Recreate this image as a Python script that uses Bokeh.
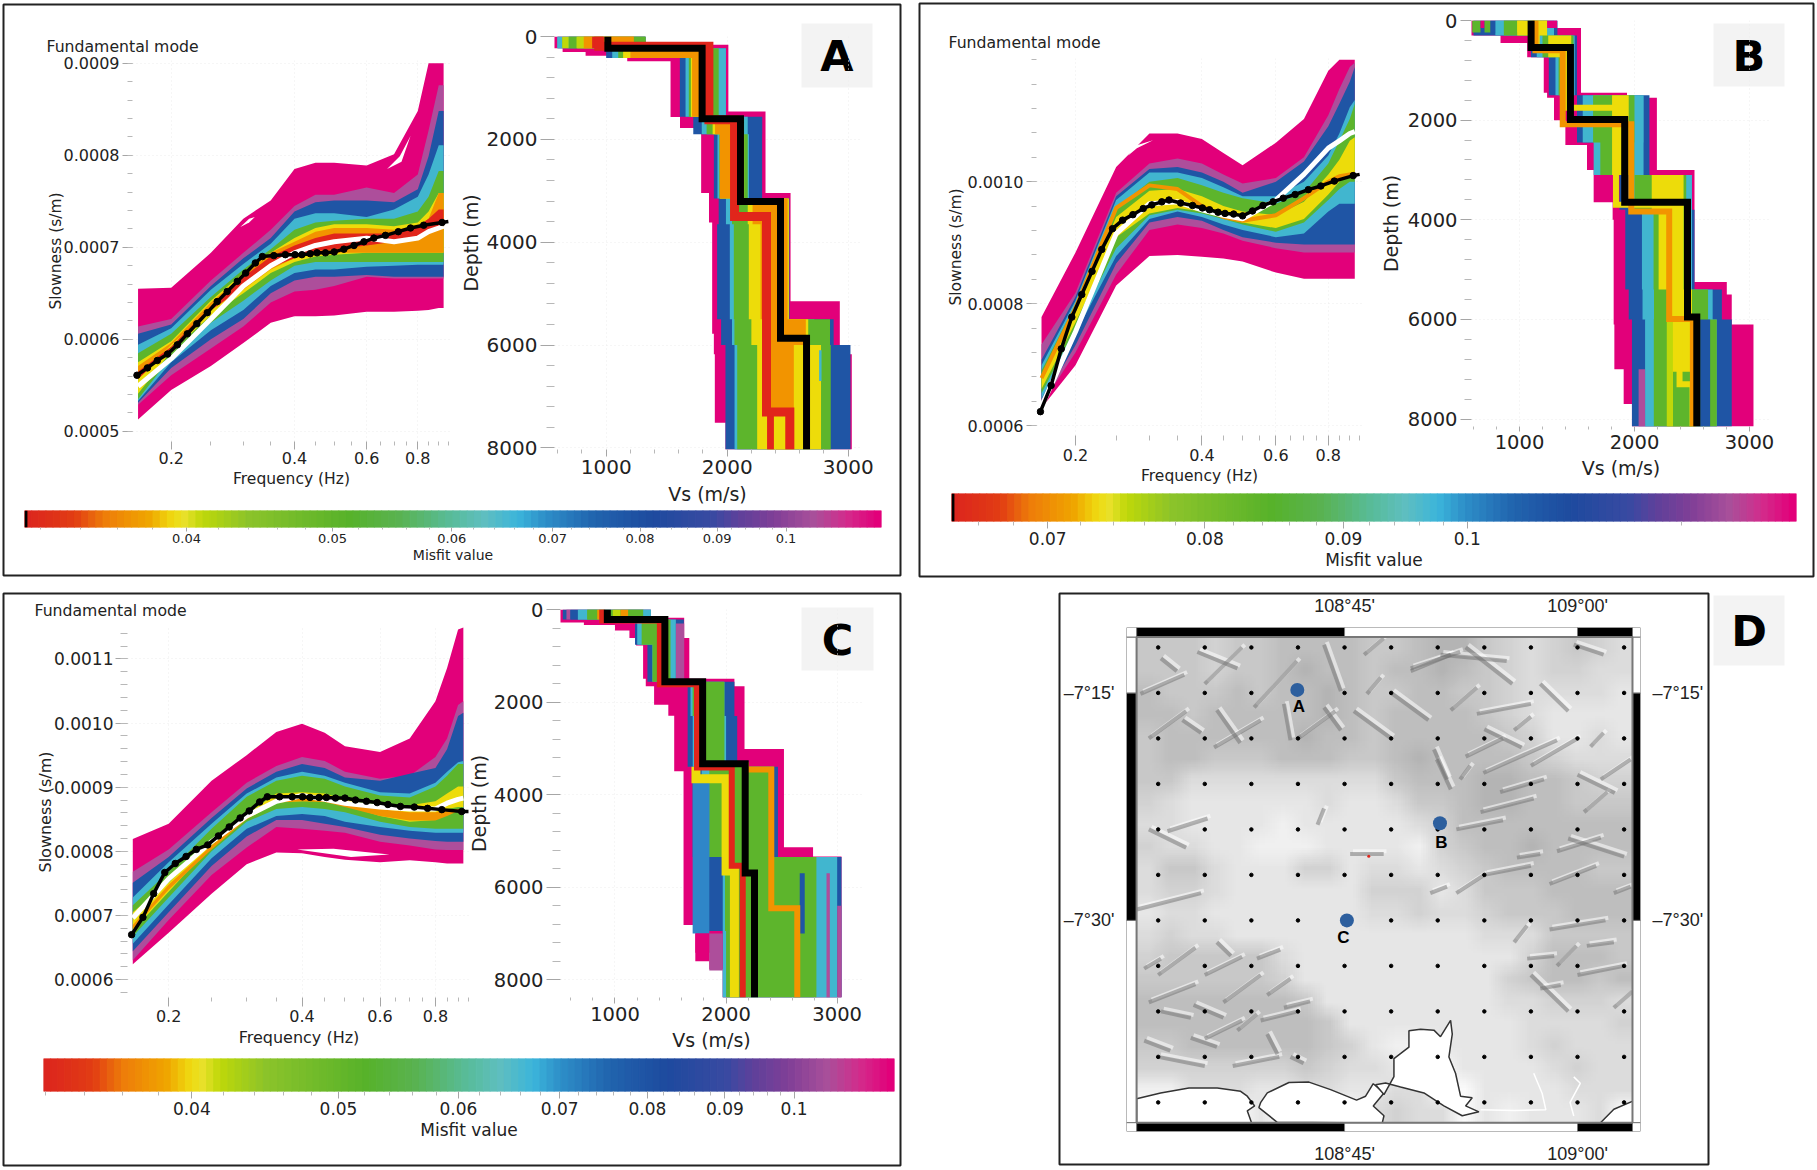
import numpy as np
from bokeh.plotting import figure
from bokeh.models import Range1d, FixedTicker, PrintfTickFormatter, LinearAxis, LinearColorMapper
from bokeh.core.properties import value
from bokeh.palettes import Greys256
from bokeh.embed import file_html
from bokeh.resources import INLINE

# ---- colours
PINK, MAUVE, BLUE, TEAL, GREEN, LIME, YELLOW, ORANGE, RED = ("#E2007A", "#AD4E9B", "#1F55A5", "#41B6CF", "#5DB52C",
                                                       "#BFD80A", "#EDDC0A", "#F29400", "#E1251B")
# ---- frequency (Hz) for the misfit envelopes, slowness in 1e-4 s/m
F = [0.166, 0.2, 0.25, 0.3, 0.35, 0.4, 0.45, 0.5, 0.6, 0.7, 0.8, 0.85, 0.9, 0.925]
F_DOT = [0.165,0.175,0.185,0.196,0.207,0.219,0.231,0.245,0.259,0.274,0.29,0.304,0.321,0.334,0.356,0.38,0.401,0.417,
         0.437,0.454,0.476,0.5,0.528,0.559,0.591,0.625,0.667,0.717,0.768,0.827,0.917]
F_END = 0.95

A_PINK = ([6.55,6.56,6.94,7.31,7.51,7.85,7.92,7.92,7.89,8.01,8.48,9.0,9.0,9.0],
          [5.13,5.45,5.71,5.96,6.18,6.25,6.25,6.26,6.30,6.30,6.31,6.32,6.34,6.34])
A_MAUVE = ([6.14,6.22,6.64,6.94,7.19,7.45,7.57,7.57,7.65,7.59,7.79,8.27,8.76,8.76],
           [5.29,5.61,5.90,6.14,6.40,6.52,6.54,6.58,6.68,6.66,6.66,6.66,6.66,6.66])
A_BLUE = ([6.06,6.16,6.58,6.88,7.10,7.39,7.49,7.51,7.51,7.49,7.63,7.99,8.48,8.48],
          [5.31,5.69,6.0,6.22,6.5,6.64,6.68,6.68,6.70,6.68,6.68,6.68,6.68,6.68])
A_TEAL = ([5.94,6.12,6.54,6.82,7.04,7.31,7.37,7.37,7.33,7.41,7.55,7.79,8.11,8.11],
          [5.33,5.75,6.10,6.32,6.58,6.72,6.76,6.76,6.79,6.80,6.81,6.81,6.81,6.81])
A_GREEN = ([5.85,6.06,6.46,6.76,6.98,7.19,7.27,7.29,7.31,7.31,7.39,7.55,7.83,7.83],
           [5.35,5.81,6.18,6.42,6.64,6.80,6.84,6.84,6.84,6.84,6.84,6.84,6.84,6.84])
A_YELLOW = ([5.75,5.98,6.42,6.72,6.94,7.10,7.21,7.25,7.25,7.23,7.27,7.39,7.59,7.59],
            [5.41,5.87,6.26,6.5,6.72,6.84,6.90,6.92,6.94,6.94,6.94,6.94,6.94,6.94])
A_ORANGE = ([5.71,5.96,6.40,6.70,6.94,7.06,7.17,7.21,7.21,7.19,7.23,7.31,7.59,7.59],
            [5.57,5.94,6.32,6.54,6.76,6.88,6.94,6.94,6.94,6.94,6.94,6.94,6.94,6.94])
A_RED = ([5.65,5.92,6.36,6.68,6.90,7.02,7.10,7.15,7.15,7.15,7.23,7.31,7.41,7.41],
         [5.57,5.90,6.32,6.56,6.78,6.88,6.96,6.98,7.02,7.06,7.12,7.19,7.23,7.23])
A_WHITE = [5.49,5.79,6.22,6.58,6.80,6.94,7.02,7.06,7.10,7.06,7.10,7.17,7.21,7.23]
A_BLACK = [5.61,5.69,5.77,5.84,5.94,6.06,6.17,6.29,6.41,6.52,6.63,6.72,6.83,6.90,6.91,6.92,6.92,6.92,6.93,6.94,6.94,
           6.95,6.98,7.02,7.06,7.10,7.13,7.17,7.21,7.24,7.27]
A_BLACK_END = 7.28
A_HOLES = [([0.295,0.31,0.32,0.31],[7.22,7.31,7.33,7.27]), ([0.673,0.723,0.768,0.73],[7.85,7.99,8.21,7.93])]

B_PINK = ([7.78,8.84,10.24,10.79,10.79,10.70,10.47,10.27,10.64,11.03,11.82,12.0,12.0,12.0],
          [6.29,6.99,8.30,8.78,8.80,8.77,8.74,8.69,8.51,8.41,8.41,8.41,8.41,8.41])
B_MAUVE = ([7.33,8.18,9.82,10.30,10.38,10.30,10.12,9.97,10.06,10.40,11.09,11.52,11.88,11.95],
           [6.35,7.20,8.48,9.21,9.30,9.24,9.15,9.03,8.91,8.84,8.84,8.84,8.84,8.84])
B_BLUE = ([7.08,8.11,9.76,10.21,10.24,10.15,10.0,9.82,10.0,10.33,10.91,11.28,11.64,11.88],
          [6.38,7.32,8.66,9.33,9.42,9.36,9.21,9.09,9.0,8.97,8.97,8.97,8.97,8.97])
B_TEAL = ([6.99,8.05,9.70,10.15,10.15,10.06,9.91,9.76,9.76,10.0,10.43,10.79,11.22,11.34],
          [6.44,7.51,8.78,9.39,9.51,9.42,9.30,9.21,9.09,9.15,9.51,9.64,9.64,9.64])
B_GREEN = ([6.90,7.99,9.57,10.0,10.06,9.94,9.82,9.73,9.64,9.82,10.30,10.67,11.03,11.28],
           [6.53,7.60,8.91,9.45,9.54,9.48,9.39,9.30,9.18,9.33,9.70,9.88,10.0,10.0])
B_YELLOW = ([6.84,7.87,9.42,9.85,9.88,9.76,9.60,9.51,9.45,9.67,10.12,10.36,10.67,10.73],
            [6.60,7.69,9.09,9.48,9.57,9.51,9.42,9.33,9.24,9.39,9.79,10.0,10.12,10.12])
B_ORANGE = [6.78,7.93,9.57,9.94,9.88,9.60,9.42,9.36,9.45,9.73,10.0,10.09,10.12,10.13]
B_WHITE = [6.32,7.54,9.15,9.64,9.67,9.54,9.45,9.39,9.70,10.12,10.55,10.67,10.79,10.82]
B_BLACK = [6.23,6.66,7.26,7.78,8.15,8.53,8.89,9.23,9.37,9.46,9.56,9.62,9.67,9.70,9.65,9.61,9.57,9.54,9.50,9.48,9.47,
           9.44,9.52,9.61,9.67,9.73,9.79,9.87,9.93,10.01,10.10]
B_BLACK_END = 10.12
B_HOLES = [([0.267,0.275,0.306,0.28],[10.43,10.58,10.68,10.55])]

C_PINK = ([8.19,8.43,9.10,9.50,9.86,9.99,9.85,9.64,9.55,9.76,10.34,10.86,11.46,11.49],
          [6.24,6.73,7.34,7.80,7.98,7.97,7.91,7.87,7.83,7.86,7.83,7.81,7.81,7.81])
C_MAUVE = ([7.68,8.03,8.61,9.07,9.33,9.47,9.41,9.24,9.13,9.18,9.47,9.76,10.28,10.34],
           [6.30,6.93,7.63,8.06,8.38,8.35,8.32,8.29,8.15,8.09,8.03,8.02,8.02,8.02])
C_BLUE = ([7.51,7.91,8.52,8.98,9.24,9.36,9.30,9.15,9.10,9.21,9.30,9.59,10.11,10.16],
          [6.44,7.05,7.77,8.23,8.49,8.49,8.43,8.38,8.26,8.20,8.16,8.15,8.15,8.15])
C_TEAL = ([7.28,7.83,8.43,8.90,9.15,9.24,9.18,9.07,8.92,8.90,9.07,9.24,9.39,9.41],
          [6.56,7.17,7.89,8.35,8.55,8.58,8.55,8.46,8.38,8.32,8.29,8.29,8.29,8.29])
C_GREEN = ([7.16,7.68,8.35,8.85,9.10,9.18,9.13,9.01,8.87,8.84,9.01,9.18,9.36,9.36],
           [6.67,7.28,8.00,8.46,8.66,8.69,8.66,8.61,8.46,8.38,8.35,8.35,8.35,8.35])
C_YELLOW = ([7.05,7.51,8.15,8.58,8.90,8.92,8.90,8.81,8.66,8.72,8.78,8.90,9.01,9.01],
            [6.76,7.37,8.09,8.50,8.76,8.78,8.78,8.72,8.55,8.46,8.49,8.66,8.69,8.69])
C_ORANGE = ([6.85,7.48,8.09,8.55,8.81,8.84,8.81,8.75,8.66,8.61,8.61,8.64,8.66,8.66],
            [6.79,7.40,8.03,8.50,8.76,8.78,8.77,8.69,8.55,8.48,8.48,8.55,8.63,8.63])
C_WHITE = [6.96,7.57,8.15,8.55,8.78,8.87,8.81,8.75,8.69,8.66,8.66,8.75,8.81,8.83]
C_BLACK = [6.70,6.97,7.34,7.67,7.81,7.92,8.03,8.10,8.24,8.38,8.52,8.63,8.77,8.85,8.85,8.85,8.85,8.84,8.84,8.84,8.83,
           8.83,8.80,8.78,8.76,8.73,8.70,8.69,8.67,8.65,8.62]
C_BLACK_END = 8.62
C_HOLES = [([0.39,0.471,0.63,0.516],[8.03,8.04,7.95,7.91])]

# ---- Vs profiles: layer bottoms (m) with left / right Vs (m/s) of each colour envelope
A_P_D = [160,230,303,375,483,1456,1564,1780,1996,3041,3618,5146,5780,6180,7510,8031]
A_P_L = [562,562,640,830,1174,1532,1532,1610,1785,1785,1850,1876,1876,1890,1898,1986]
A_P_R = [1325,2010,2010,2010,2010,2010,2317,2317,2317,2317,2524,2524,2931,2931,3030,3030]
A_D = [230,420,1560,1900,3150,3650,5500,6000,8031]
A_V_BLUE = ([600,1000,1609,1720,1890,1930,1917,1950,1986],[1325,1990,1990,2290,2289,2515,2515,2880,3019])
A_V_TEAL = ([640,1050,1656,1790,1920,1990,2022,2040,2061],[1325,1990,1990,2170,2180,2510,2510,2720,2780])
A_V_GREEN = ([690,1100,1683,1830,1935,2040,2055,2060,2083],[1325,1930,1930,2140,2170,2510,2510,2850,2854])
A_V_YELLOW = ([760,1140,1700,1880,1940,2170,2179,2200,2248],[1229,1850,1860,2120,2140,2510,2510,2670,2777])
A_V_ORANGE = ([815,1200,1710,1900,1939,2210,2276,2290,2331],[1229,1820,1820,2110,2110,2500,2500,2650,2551])
A_STRIPS = [(TEAL,595,636,0,230),(LIME,636,691,0,230),(GREEN,691,755,0,230),(LIME,755,815,0,230),(ORANGE,815,884,0,230),
            (RED,884,981,0,230),(ORANGE,1041,1229,0,230),(GREEN,1229,1325,0,230),(YELLOW,2386,2482,7300,8031),
            (RED,2330,2386,7260,8031),(GREEN,2777,2854,6000,8031),(TEAL,2760,2780,6100,6700)]
A_V_RED = ([939,1849,2061,2325,2518],[190,1620,3500,7300,8031])
A_V_BLACK = ([1014,1793,2110,2441,2656],[230,1600,3207,5866,8031])

B_P_D = [150,300,450,740,1450,1550,2000,2500,3000,3650,4000,5250,5500,6100,7000,7700,8150]
B_P_L = [575,575,835,1067,1211,1240,1300,1399,1587,1645,1810,1819,1819,1819,1825,1906,1978]
B_P_R = [1327,1535,1535,1535,1535,1935,2195,2195,2195,2522,2522,2522,2803,2846,3035,3035,3035]
B_D = [300,740,1500,2450,3100,3800,5400,6000,8150]
B_V_BLUE = ([600,1100,1255,1500,1680,1870,1920,1950,1978],[1330,1500,1500,2130,2130,2500,2522,2760,2846])
B_V_TEAL = ([790,1150,1313,1550,1645,1950,2065,2070,2094],[1300,1480,1480,2080,2079,2500,2500,2680,2716])
B_V_GREEN = ([864,1200,1340,1640,1703,2000,2166,2170,2166],[1240,1470,1470,2000,1998,2450,2460,2640,2716])
B_V_YELLOW = ([980,1250,1356,1805,1805,2150,2210,2282,2282],[1240,1450,1450,1950,1950,2427,2427,2500,2500])
B_STRIPS = [(GREEN,589,661,0,240),(PINK,661,696,0,150),(GREEN,696,748,0,240),(BLUE,748,792,0,240),(TEAL,792,864,0,240),
            (GREEN,864,980,0,240),(YELLOW,980,1038,0,240),(YELLOW,1153,1240,0,150),(PINK,1240,1327,0,150),
            (GREEN,2334,2499,7050,8150),(BLUE,2571,2658,6000,8150),(MAUVE,2036,2094,7000,8150),(LIME,2282,2334,6000,8150),
            (TEAL,2094,2166,6000,8150)]
B_V_YEL = ([1150,1400,1839,2392,2505],[560,1750,3700,7300,8150])
B_V_ORA = ([1139,1376,1972,2302,2508],[595,2084,3833,5991,8150])
B_V_BLACK = ([1101,1443,1915,2461,2542],[543,1987,3647,5954,8150])

C_P_D = [176,280,336,456,616,776,1496,1656,2056,2296,3016,3496,5136,5336,6816,7416,7776,8385]
C_P_L = [503,503,720,1000,1130,1190,1253,1277,1352,1480,1533,1533,1617,1617,1617,1723,1849,1970]
C_P_R = [1322,1623,1623,1623,1623,1669,1669,2075,2166,2166,2166,2521,2521,2783,3039,3039,3039,3039]
C_D = [216,760,1560,2300,3400,3750,5350,6950,8385]
C_V_BLUE = ([530,1180,1292,1654,1654,1699,1699,1723,1970],[1322,1620,1620,2075,2100,2467,2467,3039,3039])
C_V_TEAL = ([666,1200,1337,1680,1700,1780,1849,1970,1970],[1322,1548,1548,1985,2000,2431,2431,3000,3000])
C_V_GREEN = ([750,1240,1337,1699,1738,1849,1849,1990,2000],[1255,1500,1500,1985,1985,2431,2431,2813,2813])
C_STRIPS = [(MAUVE,563,599,0,216),(BLUE,599,666,0,216),(TEAL,666,750,0,216),(GREEN,750,840,0,216),(ORANGE,840,900,0,216),
            (LIME,980,1050,0,216),(ORANGE,1050,1120,0,216),(GREEN,1120,1255,0,216),(TEAL,1255,1322,0,216),
            (MAUVE,1548,1623,300,1500),("#2F86C8",1699,1849,3750,7000),(BLUE,2663,2708,5700,7000),(MAUVE,2904,2934,5700,8385),
            (MAUVE,3000,3039,6400,8385),(PINK,1723,1849,7000,7600),(MAUVE,1849,1970,7000,7800)]
C_V_YEL = ([1729,2000,2075],[3660,5650,8385],3400)
C_V_RED = ([885,1404,1738,2051,2150],[240,1616,3416,5536,8385])
C_V_ORA = ([2180,2407,2641],[3456,6456,8385],3300)
C_V_BLACK = ([931,1449,1789,2172,2256],[216,1560,3336,5696,8385])

# ---- colour bars
CB_FRAC = [0,.0587,.094,.145,.174,.188,.2076,.262,.38,.4387,.4974,.537,.576,.6075,.666,.733,.8035,.835,.874,.921,.96,.9957,1]
CB_HEX = ["#DC241F","#E23D14","#EE7D0A","#F0A500","#EFDC12","#E8E12A","#BFD80A","#8CC42A","#57B22B","#5AB352","#58BC99",
          "#5FBFC0","#3CB5DB","#2E8FC9","#2164AE","#1E4B9F","#3A4AA2","#5F419B","#7F3F97","#A9509B","#D32C8C","#E2007A","#E2007A"]
CB_TICKS = [0.04,0.05,0.06,0.07,0.08,0.09,0.1]
CB_LABELS = ["0.04","0.05","0.06","0.07","0.08","0.09","0.1"]
CB_MINOR = [.032,.034,.036,.038,.042,.044,.046,.048,.052,.054,.056,.058,.062,.064,.066,.068,.072,.074,.076,.078,.082,.084,.086,.088,.092,.094,.096,.098]
CB_TICKS_B = [0.07,0.08,0.09,0.1]
CB_LABELS_B = ["0.07","0.08","0.09","0.1"]
CB_MINOR_B = [.066,.068,.072,.074,.076,.078,.082,.084,.086,.088,.092,.094,.096,.098,.12]

# ---- axis ticks
FREQ_TICKS = [0.2,0.4,0.6,0.8]
FREQ_MINOR = [0.25,0.3,0.35,0.45,0.5,0.55,0.65,0.7,0.75,0.85,0.9,0.95]
DEPTH_TICKS = [0,2000,4000,6000,8000]
DEPTH_MINOR = [400,800,1200,1600,2400,2800,3200,3600,4400,4800,5200,5600,6400,6800,7200,7600]
VS_TICKS = [1000,2000,3000]
VS_MINOR = [600,800,1200,1400,1600,1800,2200,2400,2600,2800]
SLOW_A = [0.0005,0.0006,0.0007,0.0008,0.0009]
SLOW_A_MINOR = [round(0.0005+0.00002*i,5) for i in range(0,21)]
SLOW_B = [0.0006,0.0008,0.0010]
SLOW_B_MINOR = [round(0.0006+0.00004*i,5) for i in range(0,16)]
SLOW_C = [0.0006,0.0007,0.0008,0.0009,0.0010,0.0011]
SLOW_C_MINOR = [round(0.00058+0.00002*i,5) for i in range(0,29)]

# ---- map
MAP_LON = [108.55,108.60,108.65,108.70,108.75,108.80,108.85,108.90,108.95,109.00,109.05]
MAP_LAT = [-7.20,-7.25,-7.30,-7.35,-7.40,-7.45,-7.50,-7.55,-7.60,-7.65,-7.70]
SITE_LON = [108.6993,108.8524,108.7525]
SITE_LAT = [-7.2467,-7.3932,-7.5]
SITE_NAME = ["A","B","C"]
SITE_TEXT_LON = [108.701,108.8538,108.7487]
SITE_TEXT_LAT = [-7.265,-7.4148,-7.519]
RELIEF = ["5554556666556775434543","5554556766566765434433","6555656676556655433332","6656666676566665432222",
          "5666666766566666542232","5665556665567666654333","5533333333356667766544","4322222232235567766555",
          "3322221222223466666666","4332211122221456676666","3553222442332345666655","3443222222444235556666",
          "2332222222334334555666","3433222222222223335555","4555553222222222246665","5555554222222222456656",
          "6666666522222222334443","6666666652222222233334","5566666654211222234333","4444444543320022223433",
          "1133322332233002222333","0000020000343302122230"]
RIDGES = [(108.653,-7.266,108.699,-7.215),(108.728,-7.197,108.746,-7.248),(108.774,-7.251,108.789,-7.233),
 (108.821,-7.226,108.864,-7.208),(108.613,-7.269,108.638,-7.305),(108.728,-7.266,108.746,-7.291),(108.576,-7.280,108.596,-7.294),
 (108.560,-7.402,108.603,-7.388),(108.721,-7.395,108.728,-7.377),(108.531,-7.251,108.578,-7.230),(108.553,-7.212,108.570,-7.226),
 (108.685,-7.262,108.692,-7.302),(108.592,-7.205,108.635,-7.223),(108.771,-7.208,108.792,-7.190),(108.846,-7.312,108.860,-7.345),
 (108.756,-7.427,108.792,-7.427),(108.821,-7.223,108.874,-7.205),(108.853,-7.208,108.924,-7.215),(108.892,-7.273,108.950,-7.262),
 (108.849,-7.323,108.864,-7.356),(108.874,-7.345,108.885,-7.330),(108.899,-7.338,108.978,-7.302),(108.932,-7.291,108.950,-7.276),
 (108.917,-7.359,108.964,-7.345),(109.007,-7.381,109.032,-7.359),(108.978,-7.424,109.025,-7.409),(108.935,-7.431,108.960,-7.427),
 (109.025,-7.345,109.057,-7.323),(109.014,-7.309,109.028,-7.294),(108.996,-7.197,109.028,-7.208),(108.896,-7.381,108.953,-7.366),
 (108.864,-7.269,108.892,-7.244),(108.527,-7.488,108.596,-7.470),(108.553,-7.600,108.585,-7.607),(108.613,-7.524,108.628,-7.539),
 (108.667,-7.582,108.692,-7.564),(108.588,-7.593,108.620,-7.607),(108.667,-7.625,108.678,-7.647),(108.635,-7.621,108.656,-7.603),
 (108.685,-7.596,108.713,-7.589),(108.585,-7.629,108.613,-7.639),(108.535,-7.632,108.563,-7.643),(108.692,-7.650,108.706,-7.657),
 (108.535,-7.553,108.553,-7.542),(108.656,-7.542,108.681,-7.532),(108.932,-7.524,108.946,-7.506),(108.978,-7.550,108.999,-7.528),
 (108.946,-7.542,108.975,-7.539),(108.960,-7.575,108.982,-7.571),(109.010,-7.528,109.039,-7.524),(109.039,-7.596,109.059,-7.578),
 (108.842,-7.470,108.860,-7.463),(109.039,-7.470,109.057,-7.463),
 (108.54,-7.30,108.58,-7.27),(108.60,-7.24,108.64,-7.20),(108.61,-7.31,108.66,-7.28),(108.70,-7.30,108.74,-7.27),
 (108.76,-7.27,108.80,-7.30),(108.80,-7.25,108.84,-7.28),(108.88,-7.20,108.93,-7.24),(108.90,-7.29,108.94,-7.31),
 (108.96,-7.24,108.99,-7.27),(108.88,-7.32,108.92,-7.30),(108.95,-7.33,109.0,-7.30),(109.0,-7.34,109.04,-7.36),
 (108.87,-7.40,108.92,-7.39),(108.99,-7.41,109.05,-7.43),(108.90,-7.45,108.95,-7.44),(108.97,-7.46,109.02,-7.44),
 (108.87,-7.47,108.90,-7.45),(108.55,-7.56,108.59,-7.53),(108.60,-7.56,108.64,-7.54),(108.54,-7.59,108.59,-7.57),
 (108.62,-7.59,108.66,-7.56),(108.60,-7.63,108.64,-7.61),(108.66,-7.61,108.70,-7.60),(108.55,-7.65,108.60,-7.66),
 (108.63,-7.66,108.68,-7.65),(108.54,-7.40,108.58,-7.42),(108.97,-7.51,109.03,-7.50),(109.0,-7.56,109.05,-7.55),
 (108.95,-7.56,108.99,-7.60)]
SEA_LON = [[108.5269,108.5526,108.5830,108.6134,108.6385,108.6456,108.6535,108.6456,108.6503,108.5269],
           [108.6599,108.6671,108.6903,108.7118,108.7350,108.7629,108.7726,108.7808,108.7923,108.7808,108.7923,108.7905,108.6778,108.6581],
           [108.8030,108.8191,108.8191,108.8316,108.8459,108.8530,108.8638,108.8656,108.8620,108.8691,108.8745,108.8870,108.8799,108.8942,108.8763,108.8566,108.8352,108.8101,108.7940,108.7833,108.7923,108.8030],
           [109.0247,109.0390,109.0594,109.0594]]
SEA_LAT = [[-7.6960,-7.6896,-7.6842,-7.6842,-7.6878,-7.6932,-7.7039,-7.7093,-7.7226,-7.7226],
           [-7.7003,-7.6896,-7.6781,-7.6777,-7.6860,-7.6975,-7.6932,-7.6795,-7.6896,-7.7039,-7.7147,-7.7226,-7.7219,-7.7057],
           [-7.6519,-7.6393,-7.6213,-7.6195,-7.6206,-7.6278,-7.6098,-7.6249,-7.6501,-7.6680,-7.6932,-7.6950,-7.7039,-7.7104,-7.7147,-7.7039,-7.6896,-7.6831,-7.6788,-7.6806,-7.6914,-7.6716],
           [-7.7223,-7.7075,-7.6986,-7.7223]]
RIVER_LON = [[108.953,108.962,108.966,108.932,108.896],[108.996,109.003,108.992,108.996]]
RIVER_LAT = [[-7.668,-7.690,-7.708,-7.709,-7.708],[-7.672,-7.679,-7.700,-7.715]]
MAP_IN = (108.5268,109.059,-7.7223,-7.1886)
MAP_OUT = (108.516,109.0676,-7.732,-7.1781)


def fig(box, xr, yr, xlog=False, m=(110, 30, 30, 70)):
    x0, y0, x1, y1 = box
    l, r, t, b = m
    return figure(width=int(round(x1-x0))+l+r, height=int(round(y1-y0))+t+b, x_range=Range1d(*xr), y_range=Range1d(*yr),
                  x_axis_type="log" if xlog else "linear", toolbar_location=None, output_backend="svg",
                  min_border_left=l, min_border_right=r, min_border_top=t, min_border_bottom=b,
                  background_fill_color=None, border_fill_color=None, outline_line_color=None,
                  styles={"position": "absolute", "left": f"{int(round(x0))-l}px", "top": f"{int(round(y0))-t}px"})


def ax_style(ax, ticks, minor, maj, mnr, size, stand, label=None, lsize="15px", lstand=2, fmt=None, over=None):
    ax.ticker = FixedTicker(ticks=ticks, minor_ticks=minor)
    ax.axis_line_color = None
    ax.major_tick_line_color = "#a6a6a6"
    ax.minor_tick_line_color = "#b8b8b8"
    ax.major_tick_in = 0
    ax.minor_tick_in = 0
    ax.major_tick_out = maj
    ax.minor_tick_out = mnr
    ax.major_tick_line_width = 1
    ax.minor_tick_line_width = 1
    ax.major_label_text_font = "DejaVu Sans"
    ax.major_label_text_font_size = size
    ax.major_label_text_color = "#222222"
    ax.major_label_standoff = stand
    if fmt:
        ax.formatter = fmt
    if over:
        ax.major_label_overrides = over
    if label:
        ax.axis_label = label
        ax.axis_label_text_font = "DejaVu Sans"
        ax.axis_label_text_font_size = lsize
        ax.axis_label_text_font_style = "normal"
        ax.axis_label_text_color = "#222222"
        ax.axis_label_standoff = lstand


def dotted_grid(p):
    p.grid.grid_line_color = "#ececec"
    p.grid.grid_line_dash = "1 3"
    p.grid.grid_line_width = 1


def sl(a):
    return (np.array(a)*1e-4).tolist()


def disp_plot(box, fr, sr, yticks, yminor, bands, lines, white, black, black_end, holes, ysize, ystand, xstand, ylstand, xlstand, ymaj, ymin, xmaj, xmin, xsize="16px", tsize="15.5px"):
    p = fig(box, fr, sr, xlog=True)
    ax_style(p.xaxis[0], FREQ_TICKS, FREQ_MINOR, xmaj, xmin, xsize, xstand, "Frequency (Hz)", tsize, xlstand, PrintfTickFormatter(format="%.1f"))
    ax_style(p.yaxis[0], yticks, yminor, ymaj, ymin, ysize, ystand, "Slowness (s/m)", tsize, ylstand, PrintfTickFormatter(format="%.4f"))
    dotted_grid(p)
    for col, (hi, lo) in bands:
        p.varea(x=F, y1=sl(hi), y2=sl(lo), fill_color=col)
    for hx, hy in holes:
        p.patch(hx, sl(hy), fill_color="white", line_color=None)
    for col, vals, w in lines:
        p.line(F, sl(vals), line_color=col, line_width=w)
    p.line(F, sl(white), line_color="white", line_width=5)
    p.line(F_DOT+[F_END], sl(black+[black_end]), line_color="black", line_width=3.5)
    p.scatter(F_DOT, sl(black), size=6.5, fill_color="black", line_color="black", marker="circle")
    return p


def steps(bottoms, vals, top=0):
    y, x = [top], [vals[0]]
    for i, b in enumerate(bottoms):
        y.append(b); x.append(vals[i])
        if i+1 < len(vals):
            y.append(b); x.append(vals[i+1])
    return x, y


def vs_plot(box, vr, dr, pink, D, bands, strips, lines, black, size, xstand, ystand, xlstand, ylstand, ymaj, ymin, xmaj, xmin, lsize="19px"):
    p = fig(box, vr, dr)
    ax_style(p.xaxis[0], VS_TICKS, VS_MINOR, xmaj, xmin, size, xstand, "Vs (m/s)", lsize, xlstand)
    ax_style(p.yaxis[0], DEPTH_TICKS, DEPTH_MINOR, ymaj, ymin, size, ystand, "Depth (m)", lsize, ylstand)
    dotted_grid(p)
    xl, y = steps(pink[0], pink[1])
    xr, _ = steps(pink[0], pink[2])
    p.harea(x1=xl, x2=xr, y=y, fill_color=PINK)
    for col, (L, R) in bands:
        xl, y = steps(D, L)
        xr, _ = steps(D, R)
        p.harea(x1=xl, x2=xr, y=y, fill_color=col)
    for col, a, b, t, u in strips:
        p.quad(left=[a], right=[b], top=[t], bottom=[u], fill_color=col, line_color=None)
    for col, ln, w in lines:
        vs, bt = ln[0], ln[1]
        top = ln[2] if len(ln) > 2 else 0
        x, y = steps(bt, vs, top)
        p.line(x, y, line_color=col, line_width=w, line_join="miter")
    x, y = steps(black[1], black[0])
    p.line(x, y, line_color="black", line_width=7, line_join="miter")
    return p


def colorbar(box, vr, ticks, labels, minor, black, size, stand, lsize, lstand, maj, mnr):
    p = fig(box, vr, (0, 1), xlog=True, m=(30, 30, 5, 70))
    ax_style(p.xaxis[0], ticks, minor, maj, mnr, size, stand, "Misfit value", lsize, lstand, over=dict(zip(ticks, labels)))
    p.yaxis.visible = False
    p.grid.visible = False
    edges = np.geomspace(vr[0], vr[1], 121)
    fr = np.linspace(0, 1, 121)
    rgb = np.array([[int(h[i:i+2], 16) for i in (1, 3, 5)] for h in CB_HEX])
    mid = (fr[:-1]+fr[1:])/2
    cols = ["#%02x%02x%02x" % tuple(int(np.interp(m, CB_FRAC, rgb[:, k])) for k in range(3)) for m in mid]
    p.quad(left=edges[:-1], right=edges[1:], top=1, bottom=0, fill_color=cols, line_color=cols, line_width=1)
    if black:
        p.quad(left=[vr[0]], right=[black], top=[1], bottom=[0], fill_color="black", line_color=None)
    return p


# ---- canvas: panel frames, letter tiles and captions
canvas = figure(width=1817, height=1170, x_range=Range1d(0, 1817), y_range=Range1d(1170, 0), toolbar_location=None,
                output_backend="svg", min_border=0, background_fill_color=None, border_fill_color=None, outline_line_color=None,
                styles={"position": "absolute", "left": "0px", "top": "0px"})
canvas.axis.visible = False
canvas.grid.visible = False
canvas.quad(left=[3, 919, 3, 1059], right=[900, 1813, 900, 1708], top=[4, 3, 593, 593], bottom=[575, 576, 1165, 1164],
            fill_color=None, line_color="#222222", line_width=2)
canvas.quad(left=[801, 1713, 801, 1713], right=[872, 1784, 873, 1784], top=[23, 23, 607, 595], bottom=[87, 86, 670, 665],
            fill_color="#F3F3F3", line_color=None)
canvas.text(x=[836.5, 1748.5, 837, 1748.5], y=[55, 55, 639, 630], text=["A", "B", "C", "D"], text_align="center", text_baseline="middle",
            text_font=value("DejaVu Sans"), text_font_style="bold", text_font_size="43px", text_color="black")
canvas.text(x=[46, 948, 34], y=[46, 42, 610], text=["Fundamental mode"]*3, text_align="left", text_baseline="middle",
            text_font=value("DejaVu Sans"), text_font_size="15.7px", text_color="#222222")

# ---- panel A
dA = disp_plot((132, 60, 450, 441), (0.1609, 0.9615), (4.89e-4, 9.03e-4), SLOW_A, SLOW_A_MINOR,
               [(PINK, A_PINK), (MAUVE, A_MAUVE), (BLUE, A_BLUE), (TEAL, A_TEAL), (GREEN, A_GREEN), (YELLOW, A_YELLOW), (ORANGE, A_ORANGE), (RED, A_RED)],
               [], A_WHITE, A_BLACK, A_BLACK_END, A_HOLES, "16px", 3, 2, -4, 3, 10, 5, 8, 4)
vA = vs_plot((554, 36, 860, 449), (573, 3102), (8031, 0), (A_P_D, A_P_L, A_P_R), A_D,
             [(BLUE, A_V_BLUE), (TEAL, A_V_TEAL), (GREEN, A_V_GREEN), (YELLOW, A_V_YELLOW), (ORANGE, A_V_ORANGE)], A_STRIPS,
             [(RED, A_V_RED, 9)], A_V_BLACK, "20px", 3, 3, 6, 2, 14, 8, 7, 4)
cA = colorbar((24, 510, 881, 527), (0.03123, 0.1157), CB_TICKS, CB_LABELS, CB_MINOR, 0.03137, "13px", 2, "14px", 1, 4, 2)

# ---- panel B
dB = disp_plot((1036, 58, 1362, 435), (0.1615, 0.965), (5.839e-4, 12.02e-4), SLOW_B, SLOW_B_MINOR,
               [(PINK, B_PINK), (MAUVE, B_MAUVE), (BLUE, B_BLUE), (TEAL, B_TEAL), (GREEN, B_GREEN), (YELLOW, B_YELLOW)],
               [(ORANGE, B_ORANGE, 4)], B_WHITE, B_BLACK, B_BLACK_END, B_HOLES, "16px", 3, 3, 0, 3, 10, 5, 10, 5)
vB = vs_plot((1471, 20, 1770, 426), (582.6, 3183), (8150, 0), (B_P_D, B_P_L, B_P_R), B_D,
             [(BLUE, B_V_BLUE), (TEAL, B_V_TEAL), (GREEN, B_V_GREEN), (YELLOW, B_V_YELLOW)], B_STRIPS,
             [(YELLOW, B_V_YEL, 6), (ORANGE, B_V_ORA, 6)], B_V_BLACK, "19.5px", 3, 3, 5, 3, 11, 7, 5, 3)
cB = colorbar((951, 493, 1796, 521), (0.0645, 0.1323), CB_TICKS_B, CB_LABELS_B, CB_MINOR_B, 0.06466, "17px", 3, "17px", 2, 7, 4)

# ---- panel C
dC = disp_plot((127, 626, 470, 997), (0.1615, 0.96), (5.72e-4, 11.506e-4), SLOW_C, SLOW_C_MINOR,
               [(PINK, C_PINK), (MAUVE, C_MAUVE), (BLUE, C_BLUE), (TEAL, C_TEAL), (GREEN, C_GREEN), (YELLOW, C_YELLOW), (ORANGE, C_ORANGE)],
               [], C_WHITE, C_BLACK, C_BLACK_END, C_HOLES, "17px", 2, 3, -4, 3, 12, 7, 9, 4, "16px", "16px")
vC = vs_plot((560, 609, 862, 997), (509.5, 3228), (8385, 0), (C_P_D, C_P_L, C_P_R), C_D,
             [(BLUE, C_V_BLUE), (TEAL, C_V_TEAL), (GREEN, C_V_GREEN)], C_STRIPS,
             [(YELLOW, C_V_YEL, 9), (RED, C_V_RED, 6), (ORANGE, C_V_ORA, 6)], C_V_BLACK, "19.5px", 3, 3, 5, 1, 14, 8, 6, 3)
cC = colorbar((43, 1058, 894, 1091), (0.03192, 0.1165), CB_TICKS, CB_LABELS, CB_MINOR, None, "17px", 3, "17px", 2, 7, 4)

# ---- panel D: map
m = fig((1126, 622, 1640, 1136), (MAP_OUT[0], MAP_OUT[1]), (MAP_OUT[2], MAP_OUT[3]), m=(70, 70, 30, 30))
m.xaxis.visible = False
m.yaxis.visible = False
m.grid.visible = False
for side, ticks, over in [("above", [108.75, 109.0], {108.75: "108°45'", 109.0: "109°00'"}),
                          ("below", [108.75, 109.0], {108.75: "108°45'", 109.0: "109°00'"}),
                          ("left", [-7.25, -7.5], {-7.25: "–7°15'", -7.5: "–7°30'"}),
                          ("right", [-7.25, -7.5], {-7.25: "–7°15'", -7.5: "–7°30'"})]:
    ax = LinearAxis(ticker=FixedTicker(ticks=ticks), major_label_overrides=over, axis_line_color=None, major_tick_line_color=None,
                    minor_tick_line_color=None, major_label_text_font="Liberation Sans", major_label_text_font_size="18px",
                    major_label_text_color="#222222", major_label_standoff=6, major_label_orientation="horizontal")
    m.add_layout(ax, side)

lon0, lon1, lat0, lat1 = MAP_IN
darkness = np.array([[int(c) for c in row] for row in RELIEF], dtype=float)[::-1]
up = np.kron(250-10.0*darkness, np.ones((10, 10)))
kern = np.ones(9)/9
pad = np.pad(up, 4, mode="edge")
pad = np.apply_along_axis(lambda a: np.convolve(a, kern, mode="same"), 0, pad)
pad = np.apply_along_axis(lambda a: np.convolve(a, kern, mode="same"), 1, pad)
m.image(image=[pad[4:-4, 4:-4]], x=lon0, y=lat0, dw=lon1-lon0, dh=lat1-lat0, color_mapper=LinearColorMapper(palette=Greys256, low=0, high=255))
rx = [[a, c] for a, b, c, d in RIDGES]
ry = [[b, d] for a, b, c, d in RIDGES]
m.multi_line([[a+0.003, c+0.003] for a, c in rx], [[b+0.003, d+0.003] for b, d in ry], line_color="white", line_width=4, line_alpha=0.55)
m.multi_line(rx, ry, line_color="#6f6f6f", line_width=4, line_alpha=0.5)
m.patches(SEA_LON, SEA_LAT, fill_color="white", line_color="#333333", line_width=1.5)
m.multi_line(RIVER_LON, RIVER_LAT, line_color="white", line_width=1.5)
m.scatter([x for x in MAP_LON for _ in MAP_LAT], [y for _ in MAP_LON for y in MAP_LAT], size=3.5, fill_color="black", line_color="black", marker="circle")
m.scatter([108.776], [-7.4295], size=3, fill_color="#E1251B", line_color=None, marker="circle")
m.scatter(SITE_LON, SITE_LAT, size=14, fill_color="#2D5F9E", line_color=None, marker="circle")
m.text(SITE_TEXT_LON, SITE_TEXT_LAT, text=SITE_NAME, text_align="center", text_baseline="middle", text_font=value("Liberation Sans"),
       text_font_style="bold", text_font_size="17px", text_color="black")
o0, o1, o2, o3 = MAP_OUT
hl = [lon0, 108.75, 109.0]
hr = [108.75, 109.0, lon1]
hc = ["black", "white", "black"]
vb = [lat0, -7.5, -7.25]
vt = [-7.5, -7.25, lat1]
vc = ["white", "black", "white"]
m.quad(left=[o0, lon1, o0, o0], right=[lon0, o1, o1, o1], top=[o3, o3, o3, lat0], bottom=[o2, o2, lat1, o2], fill_color="white", line_color=None)
for top, bot in ((o3, lat1), (lat0, o2)):
    m.quad(left=hl, right=hr, top=top, bottom=bot, fill_color=hc, line_color="#777777", line_width=1)
for l_, r_ in ((o0, lon0), (lon1, o1)):
    m.quad(left=l_, right=r_, top=vt, bottom=vb, fill_color=vc, line_color="#777777", line_width=1)
m.quad(left=[o0, lon1, o0, lon1], right=[lon0, o1, lon0, o1], top=[o3, o3, lat0, lat0], bottom=[lat1, lat1, o2, o2], fill_color="white", line_color="#777777", line_width=1)
m.quad(left=[lon0], right=[lon1], top=[lat1], bottom=[lat0], fill_color=None, line_color="#777777", line_width=2)

page = [canvas, dA, vA, cA, dB, vB, cB, dC, vC, cC, m]
open("out.html", "w").write(file_html(page, INLINE))
